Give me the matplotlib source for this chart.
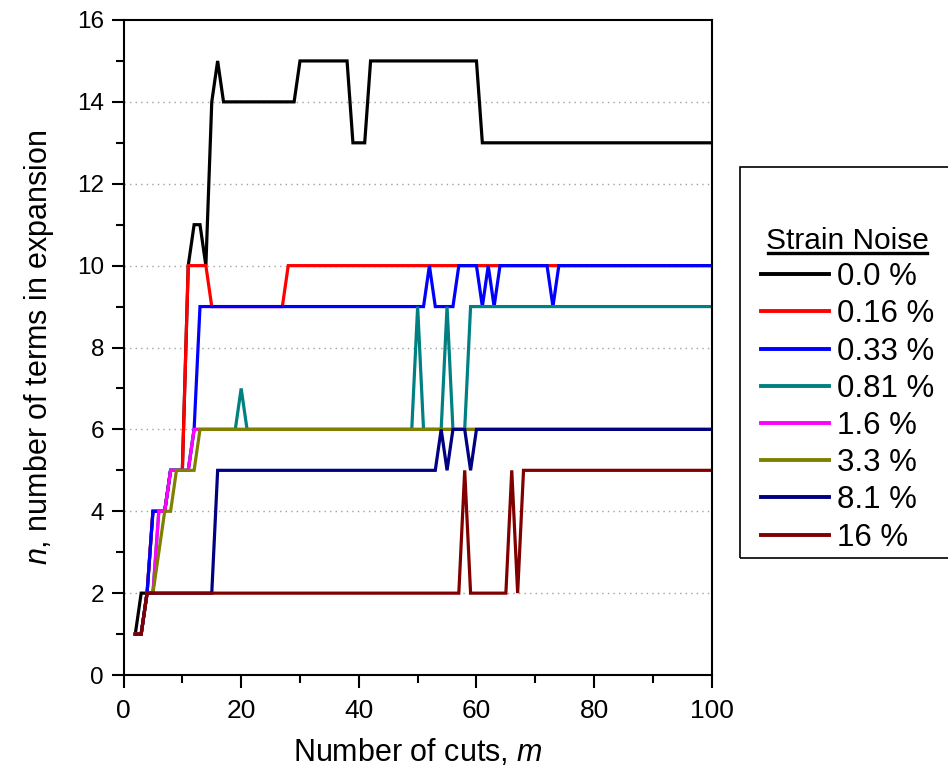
import matplotlib
matplotlib.use('Agg')
import matplotlib.pyplot as plt
from matplotlib.lines import Line2D
from matplotlib.patches import Rectangle
from matplotlib.ticker import MultipleLocator

plt.rcParams['font.family'] = ['Liberation Sans', 'DejaVu Sans']
plt.rcParams['mathtext.fontset'] = 'custom'
plt.rcParams['mathtext.rm'] = 'Liberation Sans'
plt.rcParams['mathtext.it'] = 'Liberation Sans:italic'

# vertices of each curve (number of cuts m, number of terms n)
labels = ['0.0 %', '0.16 %', '0.33 %', '0.81 %', '1.6 %', '3.3 %', '8.1 %', '16 %']
colors = ['#000000', '#ff0000', '#0000ff', '#008080', '#ff00ff', '#808000', '#000080', '#800000']

m_00 = [2, 3, 4, 5, 7, 8, 10, 11, 12, 13, 14, 15, 16, 17, 29, 30, 38, 39, 41, 42, 60, 61, 100]
n_00 = [1, 2, 2, 4, 4, 5, 5, 10, 11, 11, 10, 14, 15, 14, 14, 15, 15, 13, 13, 15, 15, 13, 13]

m_016 = [2, 3, 4, 5, 7, 8, 10, 11, 14, 15, 27, 28, 100]
n_016 = [1, 1, 2, 4, 4, 5, 5, 10, 10, 9, 9, 10, 10]

m_033 = [2, 3, 4, 5, 7, 8, 11, 12, 13, 51, 52, 53, 56, 57, 60, 61, 62, 63, 64, 72, 73, 74, 100]
n_033 = [1, 1, 2, 4, 4, 5, 5, 6, 9, 9, 10, 9, 9, 10, 10, 9, 10, 9, 10, 10, 9, 10, 10]

m_081 = [2, 3, 4, 5, 6, 7, 8, 11, 12, 19, 20, 21, 49, 50, 51, 54, 55, 56, 58, 59, 100]
n_081 = [1, 1, 2, 2, 4, 4, 5, 5, 6, 6, 7, 6, 6, 9, 6, 6, 9, 6, 6, 9, 9]

m_16 = [2, 3, 4, 5, 6, 7, 8, 11, 12, 100]
n_16 = [1, 1, 2, 2, 4, 4, 5, 5, 6, 6]

m_33 = [2, 3, 4, 5, 7, 8, 9, 12, 13, 100]
n_33 = [1, 1, 2, 2, 4, 4, 5, 5, 6, 6]

m_81 = [2, 3, 4, 15, 16, 53, 54, 55, 56, 58, 59, 60, 100]
n_81 = [1, 1, 2, 2, 5, 5, 6, 5, 6, 6, 5, 6, 6]

m_160 = [2, 3, 4, 57, 58, 59, 65, 66, 67, 68, 100]
n_160 = [1, 1, 2, 2, 5, 2, 2, 5, 2, 5, 5]

series_m = [m_00, m_016, m_033, m_081, m_16, m_33, m_81, m_160]
series_n = [n_00, n_016, n_033, n_081, n_16, n_33, n_81, n_160]

fig = plt.figure(figsize=(9.48, 7.69), dpi=100)
ax = fig.add_axes([0.1303, 0.1222, 0.6205, 0.8518])

for m, n, c, lab in zip(series_m, series_n, colors, labels):
    ax.plot(m, n, color=c, lw=2.3, label=lab, solid_joinstyle='miter')

ax.set_xlim(0, 100)
ax.set_ylim(0, 16)
ax.xaxis.set_major_locator(MultipleLocator(20))
ax.xaxis.set_minor_locator(MultipleLocator(10))
ax.yaxis.set_major_locator(MultipleLocator(2))
ax.yaxis.set_minor_locator(MultipleLocator(1))
ax.tick_params(which='both', direction='out', width=1.5, top=False, right=False)
ax.tick_params(which='major', length=9)
ax.tick_params(which='minor', length=5.5)
ax.tick_params(axis='y', labelsize=17.5, pad=5)
ax.tick_params(axis='x', labelsize=19, pad=8)
for sp in ax.spines.values():
    sp.set_linewidth(1.5)

# dotted horizontal grid at the inner major ticks
for yv in range(2, 16, 2):
    ax.axhline(yv, color='#a0a0a0', lw=1, ls=(0, (1, 3)), zorder=0)

ax.set_xlabel('Number of cuts, $m$', fontsize=22, labelpad=10)
ax.set_ylabel('$n$, number of terms in expansion', fontsize=22, labelpad=15)

# legend box running off the right edge
fig.patches.append(Rectangle((740 / 948, 1 - 558 / 769), 0.3, (558 - 166.7) / 769,
                             transform=fig.transFigure, fill=False, lw=1.2,
                             edgecolor='black', clip_on=False))
leg = fig.legend(loc='upper left', bbox_to_anchor=(761 / 948, 1 - 227 / 769),
                 frameon=False, fontsize=22.5, title='Strain Noise',
                 title_fontsize=21.5, borderpad=0, borderaxespad=0,
                 handlelength=2.18, handletextpad=0.25, labelspacing=0.23)
for h in leg.get_lines():
    h.set_linewidth(2.8)

fig.canvas.draw()
bb = leg.get_title().get_window_extent().transformed(fig.transFigure.inverted())
fig.add_artist(Line2D([bb.x0 + 0.002, bb.x1 - 0.002], [bb.y0 + 0.002, bb.y0 + 0.002],
                      transform=fig.transFigure, color='black', lw=2.4))

fig.savefig('out.png', dpi=100)
